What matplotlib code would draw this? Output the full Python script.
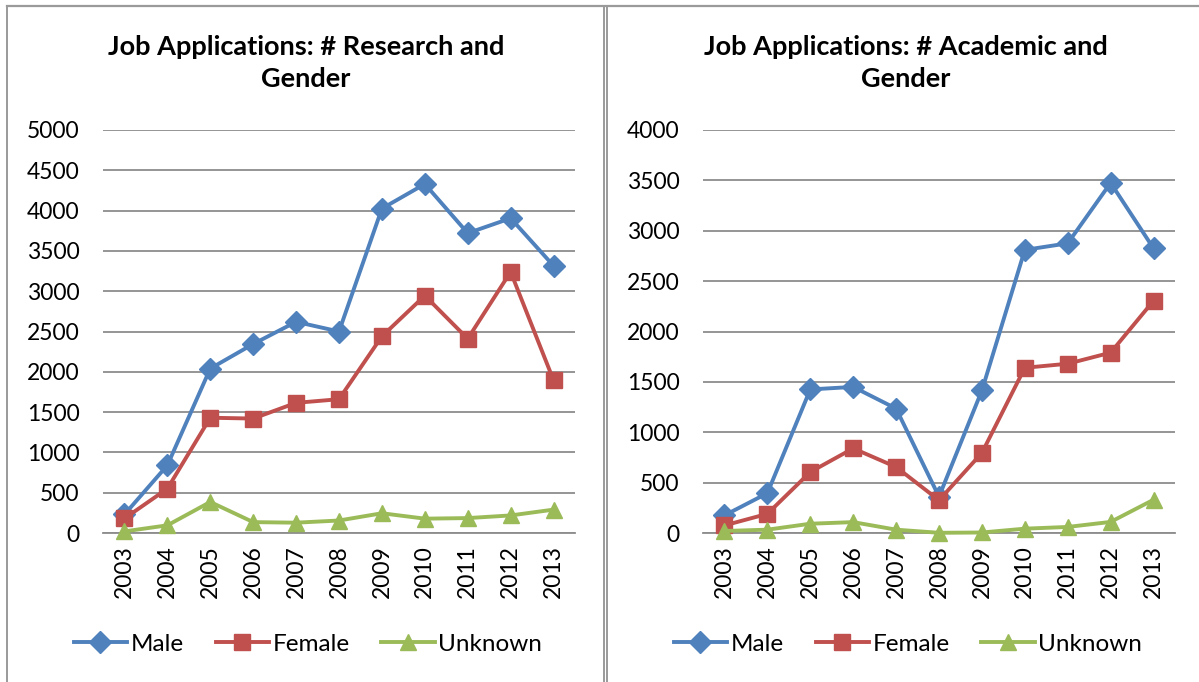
import matplotlib.pyplot as plt
from matplotlib.lines import Line2D

plt.rcParams['font.family'] = ['Lato', 'DejaVu Sans']

years = ['2003', '2004', '2005', '2006', '2007', '2008',
         '2009', '2010', '2011', '2012', '2013']

# Research jobs
research_male = [230, 840, 2040, 2345, 2620, 2500, 4025, 4330, 3720, 3905, 3315]
research_female = [180, 550, 1430, 1420, 1615, 1660, 2440, 2945, 2410, 3240, 1895]
research_unknown = [20, 95, 385, 135, 128, 155, 245, 178, 185, 218, 290]

# Academic jobs
academic_male = [175, 395, 1425, 1450, 1235, 360, 1415, 2810, 2875, 3475, 2825]
academic_female = [75, 190, 605, 840, 655, 325, 795, 1640, 1680, 1790, 2305]
academic_unknown = [20, 33, 92, 108, 33, 2, 5, 43, 60, 110, 330]

titles = ['Job Applications: # Research and\nGender',
          'Job Applications: # Academic and\nGender']
ymax = [5000, 4000]

blue = '#4F81BD'
red = '#C0504D'
green = '#9BBB59'

fig = plt.figure(figsize=(11.99, 6.82), dpi=100)

panels = [
    (research_male, research_female, research_unknown),
    (academic_male, academic_female, academic_unknown),
]
lefts = [103 / 1199, 703 / 1199]
centers = [306 / 1199, 906 / 1199]

x = list(range(len(years)))
for i, (male, female, unknown) in enumerate(panels):
    ax = fig.add_axes([lefts[i], 149 / 682, 472 / 1199, 403 / 682])
    ax.plot(x, male, color=blue, lw=2.8, marker='D', ms=11, label='Male', zorder=3)
    ax.plot(x, female, color=red, lw=2.8, marker='s', ms=11, label='Female', zorder=4)
    ax.plot(x, unknown, color=green, lw=2.8, marker='^', ms=12, label='Unknown', zorder=5)
    ax.set_xlim(-0.5, len(years) - 0.5)
    ax.set_ylim(0, ymax[i])
    ax.set_yticks(range(0, ymax[i] + 1, 500))
    ax.set_xticks(x)
    ax.set_xticklabels(years, rotation=90)
    ax.grid(axis='y', color='#8C8C8C', lw=1.3)
    ax.set_axisbelow(True)
    for s in ['left', 'right', 'top']:
        ax.spines[s].set_visible(False)
    ax.spines['bottom'].set_color('#8C8C8C')
    ax.spines['bottom'].set_linewidth(1.3)
    ax.tick_params(axis='y', length=0, pad=17, labelsize=16.5)
    ax.tick_params(axis='x', length=0, pad=9, labelsize=16.5)
    for ln in ax.lines:
        ln.set_clip_on(False)

    fig.text(centers[i], 1 - 63 / 682, titles[i], ha='center', va='center',
             fontsize=19.5, fontweight='bold', linespacing=1.4)
    h, l = ax.get_legend_handles_labels()
    fig.legend(h, l, loc='center', bbox_to_anchor=(centers[i] + 2 / 1199, 38 / 682),
               ncol=3, frameon=False, fontsize=17.5, handlelength=2.2,
               handletextpad=0.15, columnspacing=1.3)

# chart borders
border = '#9A9A9A'
fig.add_artist(Line2D([6.5 / 1199, 1], [1 - 5.5 / 682] * 2, color=border, lw=1.6))
for xp in [6.5, 603.5, 606.5]:
    fig.add_artist(Line2D([xp / 1199] * 2, [0, 1 - 5.5 / 682], color=border, lw=1.4))

fig.savefig('out.png', dpi=100)
